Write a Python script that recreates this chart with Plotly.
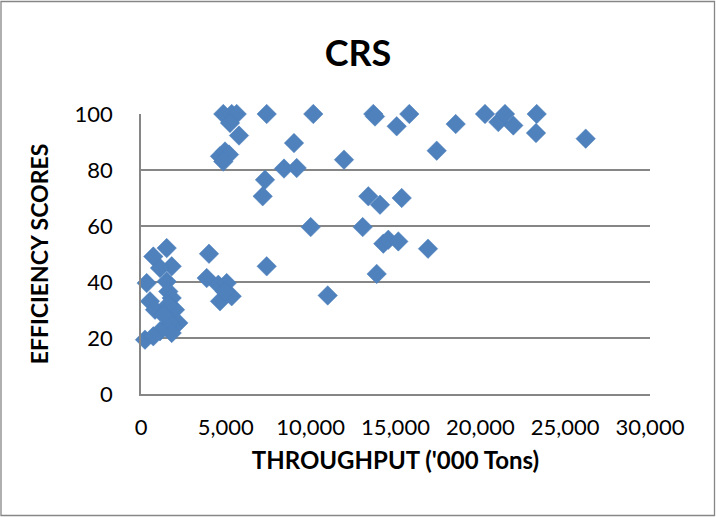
import plotly.graph_objects as go

# Throughput ('000 Tons) and CRS efficiency scores
throughput = [
    4851, 5346, 5641, 5246, 5776, 4656, 4951, 5187, 4851,
    7409, 7309, 7173, 8428, 9177, 9018, 10155, 11965,
    13692, 13792, 15814, 15071, 18549, 17429, 13397, 14087, 15366,
    10002, 13067, 14281, 14576, 15165, 16916, 7409, 13892, 11004,
    20275, 21059, 21454, 21943, 23322, 23281, 26211,
    1515, 725, 1809, 1120, 336, 1515, 1609, 530, 1809, 825, 2004,
    1609, 2198, 1709, 1809, 1120, 236, 725, 1314,
    4008, 3872, 4556, 5051, 5346, 4656, 4951,
]
scores = [
    100, 100, 100, 96.8, 92.3, 84.9, 86.6, 85.5, 83,
    100, 76.5, 70.6, 80.5, 80.7, 89.6, 100, 83.7,
    100, 99.1, 100, 95.6, 96.4, 86.9, 70.6, 67.6, 70,
    59.6, 59.6, 53.7, 55.1, 54.5, 51.9, 45.6, 42.9, 35.2,
    100, 97.1, 100, 95.9, 100, 93.2, 91.2,
    52.1, 49.1, 45.6, 45, 39.6, 40.2, 36.6, 33.1, 34.3, 30.1, 30.1,
    31.9, 25.4, 25.4, 21.8, 22.4, 19.4, 20.6, 28.3,
    50.1, 41.4, 39, 39.6, 34.9, 33.1, 36.6,
]

x_ticks = [0, 5000, 10000, 15000, 20000, 25000, 30000]
y_ticks = [0, 20, 40, 60, 80, 100]

GRID = "#868686"
FONT = "Lato"

fig = go.Figure()
fig.add_trace(go.Scatter(
    x=throughput, y=scores, mode="markers",
    marker=dict(symbol="diamond", size=15, color="#4F81BD",
                line=dict(width=0.5, color="#4A7EBB")),
    cliponaxis=False, showlegend=False,
))

L, R, T, B = 141, 66, 114, 123
W, H = 716, 517
pw, ph = W - L - R, H - T - B

fig.update_layout(
    width=W, height=H,
    margin=dict(l=L, r=R, t=T, b=B),
    paper_bgcolor="white", plot_bgcolor="white",
    font=dict(family=FONT, color="#000000"),
    title=dict(text="<b>CRS</b>", x=0.5, xanchor="center",
               y=1 - 53 / H, yanchor="middle",
               font=dict(size=36, family=FONT, color="#000000")),
    xaxis=dict(
        range=[0, 30000], tickvals=x_ticks,
        ticktext=[f"{v:,}" for v in x_ticks],
        showgrid=False, zeroline=False,
        showline=True, linecolor=GRID, linewidth=1.5,
        ticks="", ticklabelstandoff=13,
        tickfont=dict(size=22, family=FONT, color="#000000"),
        title=dict(text="<b>THROUGHPUT ('000 Tons)</b>", standoff=13,
                   font=dict(size=24, family=FONT, color="#000000")),
    ),
    yaxis=dict(
        range=[0, 100], tickvals=y_ticks,
        showgrid=True, gridcolor=GRID, gridwidth=1.5,
        zeroline=False,
        showline=True, linecolor=GRID, linewidth=1.5,
        ticks="", ticklabelstandoff=22,
        tickfont=dict(size=22, family=FONT, color="#000000"),
        title=dict(text="<b>EFFICIENCY SCORES</b>", standoff=20,
                   font=dict(size=23, family=FONT, color="#000000")),
    ),
    shapes=[dict(
        type="rect", xref="paper", yref="paper",
        x0=-(L - 1) / pw, x1=(pw + R - 1.5) / pw,
        y0=-(B - 1.5) / ph, y1=(ph + T - 1.5) / ph,
        line=dict(color=GRID, width=1.3), layer="below",
    )],
)

fig.write_html(
    "out.html",
    config={"displayModeBar": False},
    post_script="document.body.style.margin='0';document.body.style.overflow='hidden';",
)
